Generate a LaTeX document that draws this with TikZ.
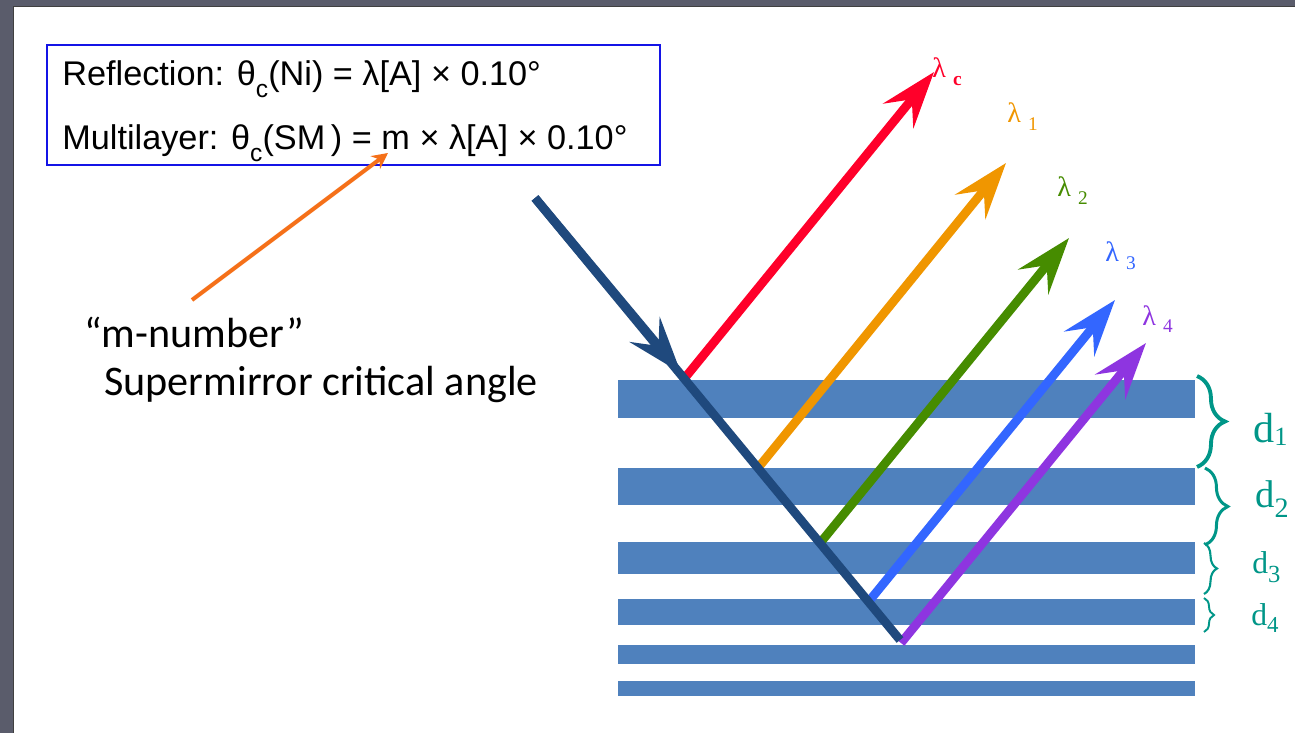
\documentclass[tikz,border=0pt]{standalone}
\usepackage{fontspec}
\setmainfont{Liberation Sans}
\newfontfamily\carlito{Carlito}
\newfontfamily\timesgr{Liberation Serif}
\usepackage{tikz}
\usetikzlibrary{
	arrows.meta,
	decorations.pathreplacing,
	positioning
}
\definecolor{FrameGray}{RGB}{90,92,107}
\definecolor{BoxBlue}{RGB}{20,20,230}
\definecolor{LayerBlue}{RGB}{79,129,189}
\definecolor{BeamNavy}{RGB}{31,73,125}
\definecolor{LamRed}{RGB}{255,0,42}
\definecolor{LamOrange}{RGB}{240,150,0}
\definecolor{LamGreen}{RGB}{70,140,0}
\definecolor{LamBlue}{RGB}{51,102,255}
\definecolor{LamPurple}{RGB}{142,53,224}
\definecolor{PtrOrange}{RGB}{245,112,25}
\definecolor{BraceTeal}{RGB}{0,150,136}

\newcommand{\csub}{\raisebox{-6.5pt}{\fontsize{14}{14}\selectfont c}}
\newcommand{\lamsub}[2]{λ\hspace{4pt}\raisebox{-4pt}{\fontsize{11}{11}\selectfont #1#2}}
\newcommand{\dsub}[3]{d\raisebox{-#3}{\fontsize{#2}{#2}\selectfont #1}}

\begin{document}
\begin{tikzpicture}[x=0.02cm, y=-0.02cm,
		beam/.style={line width=5pt},
		beamhead/.style={-{Stealth[length=32pt,width=22pt,inset=12pt]}},
		txt/.style={anchor=base west, inner sep=0pt},
		lamtxt/.style={txt, font=\timesgr\fontsize{16}{16}\selectfont},
		gapbrace/.style 2 args={decorate, decoration={brace, amplitude=#1}, line width=#2, BraceTeal}]
		\useasboundingbox (0,0) rectangle (1295,733);
		% 边框
		\fill[FrameGray] (0,0) rectangle (1295,733);
		\fill[white] (14,7) rectangle (1295,733);
		\draw[black!75, line width=1pt] (13.5,733) -- (13.5,6.5) -- (1295,6.5);
		% 公式框
		\node[draw=BoxBlue, line width=1.1pt, minimum width=12.26cm, minimum height=2.4cm, inner sep=0pt] (eqbox) at (353.5,105) {};
		\node[txt, font=\fontsize{19.5}{19.5}\selectfont] (refl) at (62,86) {Reflection: θ\csub(Ni) = λ[A] × 0.10°};
		\node[txt, font=\fontsize{19.5}{19.5}\selectfont] (multi) at (62,150) {Multilayer: θ\csub(SM\,) = m × λ[A] × 0.10°};
		% m-number
		\coordinate (ptrfrom) at (192,300);
		\coordinate (ptrto) at (388,153);
		\draw[PtrOrange, line width=2.3pt, -{Stealth[length=9pt,width=9pt]}] (ptrfrom) -- (ptrto);
		\node[txt, font=\carlito\fontsize{24}{24}\selectfont] (mnum) at (84,347) {“m-number”};
		\node[txt, font=\carlito\fontsize{24}{24}\selectfont] (smangle) at (104,395) {Supermirror critical angle};
		% 多层膜
		\foreach \t/\b in {380/418,468/505,542/574,599/625,645/664,681/696}
			\fill[LayerBlue] (618,\t) rectangle (1195,\b);
		% 反射束
		\foreach \n/\col/\sx/\sy/\ex/\ey in {c/LamRed/684/379/934/72,
				1/LamOrange/758/468/1006/163,
				2/LamGreen/821/542/1069/238,
				3/LamBlue/870/600/1115/300,
				4/LamPurple/901/643/1146/343}{
			\coordinate (s\n) at (\sx,\sy);
			\coordinate (e\n) at (\ex,\ey);
			\draw[beam, beamhead, \col] (s\n) -- (e\n);
		}
		% 入射束
		\coordinate (src) at (535,198);
		\coordinate (inhead) at (681,373);
		\coordinate (turn) at (900,640);
		\draw[beam, BeamNavy] (src) -- (turn);
		\draw[beam, beamhead, BeamNavy] (src) -- (inhead);
		% 波长
		\node[lamtxt, LamRed] (lamc) at (932,78) {\lamsub{\bfseries}{c}};
		\node[lamtxt, LamOrange] (lam1) at (1007,123) {\lamsub{}{1}};
		\node[lamtxt, LamGreen] (lam2) at (1057,197) {\lamsub{}{2}};
		\node[lamtxt, LamBlue] (lam3) at (1105,262) {\lamsub{}{3}};
		\node[lamtxt, LamPurple] (lam4) at (1142,325) {\lamsub{}{4}};
		% 层间距
		\draw[gapbrace={15.9pt}{2.2pt}] (1197,376) -- (1197,467);
		\draw[gapbrace={13pt}{1.7pt}] (1205,468) -- (1205,545);
		\draw[gapbrace={7.4pt}{1.2pt}] (1204,543) -- (1204,594);
		\draw[gapbrace={5.7pt}{1.1pt}] (1204,598) -- (1204,632);
		\node[txt, BraceTeal, font=\timesgr\fontsize{24}{24}\selectfont] (d1) at (1253,442) {\dsub{1}{15}{2pt}};
		\node[txt, BraceTeal, font=\timesgr\fontsize{22}{22}\selectfont] (d2) at (1255,507) {\dsub{2}{16}{6pt}};
		\node[txt, BraceTeal, font=\timesgr\fontsize{18}{18}\selectfont] (d3) at (1252,573) {\dsub{3}{14}{5.5pt}};
		\node[txt, BraceTeal, font=\timesgr\fontsize{18}{18}\selectfont] (d4) at (1251,625) {\dsub{4}{13}{4.5pt}};
	\end{tikzpicture}
\end{document}
